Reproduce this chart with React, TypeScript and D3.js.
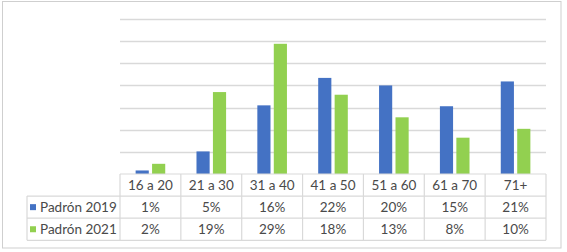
import React from "react";
import * as d3 from "d3";

const categories = ["16 a 20", "21 a 30", "31 a 40", "41 a 50", "51 a 60", "61 a 70", "71+"];
const seriesNames = ["Padrón 2019", "Padrón 2021"];
const padron2019 = [0.8, 5.1, 15.5, 21.7, 20.0, 15.3, 20.9];
const padron2021 = [2.3, 18.5, 29.4, 17.9, 12.8, 8.2, 10.2];
const labels2019 = ["1%", "5%", "16%", "22%", "20%", "15%", "21%"];
const labels2021 = ["2%", "19%", "29%", "18%", "13%", "8%", "10%"];
const gridTicks = [5, 10, 15, 20, 25, 30, 35];
const colors = ["#4472C4", "#92D050"];

export default function App() {
  const W = 567, H = 252;
  const left = 120, right = 546;
  const top = 19, base = 174;
  const rowH = 22.1;
  const x = d3.scaleBand<string>().domain(categories).range([left, right]).paddingInner(0).paddingOuter(0);
  const y = d3.scaleLinear().domain([0, 35]).range([base, top]);
  const sub = d3.scaleBand<string>().domain(seriesNames).range([0, x.bandwidth()]).paddingInner(0.2).paddingOuter(0.95);
  const series = [padron2019, padron2021];
  const tableLabels = [labels2019, labels2021];
  const font = "Lato, 'Open Sans', sans-serif";
  const textColor = "#4a4a4a";
  const grid = "#d9d9d9";
  const fs = 13.5;

  return (
    <svg width={W} height={H} style={{ position: "absolute", left: 0, top: 0 }} fontFamily={font}>
      <rect x={0} y={0} width={W} height={H} fill="#fff" />
      <rect x={2.5} y={1.5} width={558.5} height={246.5} fill="none" stroke="#cfcfcf" strokeWidth={1} />
      {gridTicks.map((t) => (
        <line key={t} x1={left} x2={right} y1={Math.round(y(t)) + 0.5} y2={Math.round(y(t)) + 0.5} stroke={grid} strokeWidth={1.5} />
      ))}
      {series.map((vals, si) =>
        vals.map((v, i) => (
          <rect
            key={si + "-" + i}
            x={(x(categories[i]) as number) + (sub(seriesNames[si]) as number)}
            y={y(v)}
            width={sub.bandwidth()}
            height={base - y(v)}
            fill={colors[si]}
          />
        ))
      )}
      <g stroke={grid} strokeWidth={1.2} fill="none">
        <line x1={left} x2={right} y1={base} y2={base} />
        <line x1={27} x2={right} y1={base + rowH} y2={base + rowH} />
        <line x1={27} x2={right} y1={base + 2 * rowH} y2={base + 2 * rowH} />
        <line x1={27} x2={right} y1={base + 3 * rowH} y2={base + 3 * rowH} />
        <line x1={27} x2={27} y1={base + rowH} y2={base + 3 * rowH} />
        {categories.map((c) => (
          <line key={c} x1={x(c) as number} x2={x(c) as number} y1={base} y2={base + 3 * rowH} />
        ))}
        <line x1={right} x2={right} y1={base} y2={base + 3 * rowH} />
      </g>
      {categories.map((c) => (
        <text key={c} x={(x(c) as number) + x.bandwidth() / 2} y={base + rowH / 2} dy="0.35em" textAnchor="middle" fontSize={fs} fill={textColor}>
          {c}
        </text>
      ))}
      {tableLabels.map((labs, si) => (
        <g key={si}>
          <rect x={30} y={base + rowH * (si + 1) + rowH / 2 - 3} width={6} height={6} fill={colors[si]} />
          <text x={40} y={base + rowH * (si + 1.5)} dy="0.35em" fontSize={fs} fill={textColor}>
            {seriesNames[si]}
          </text>
          {labs.map((l, i) => (
            <text key={i} x={(x(categories[i]) as number) + x.bandwidth() / 2} y={base + rowH * (si + 1.5)} dy="0.35em" textAnchor="middle" fontSize={fs} fill={textColor}>
              {l}
            </text>
          ))}
        </g>
      ))}
    </svg>
  );
}
